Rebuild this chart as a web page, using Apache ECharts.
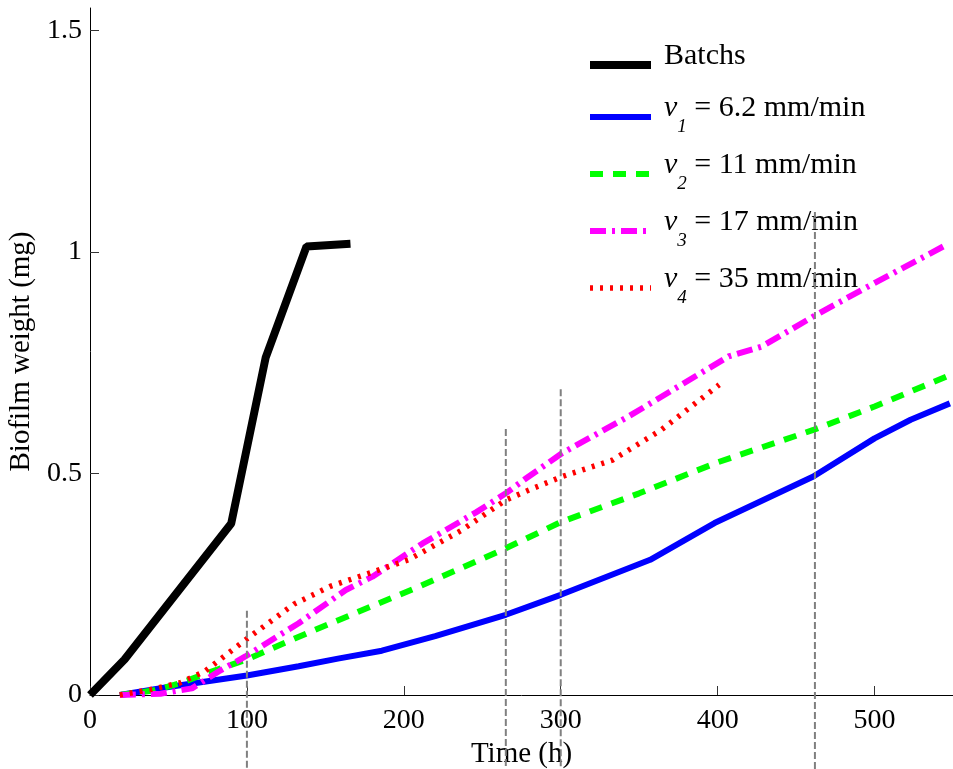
<!DOCTYPE html>
<html>
<head>
<meta charset="utf-8">
<script src="https://cdn.jsdelivr.net/npm/echarts@6/dist/echarts.min.js"></script>
<style>
  html, body { margin: 0; padding: 0; background: #fff; }
  #chart { width: 953px; height: 769px; }
</style>
</head>
<body>
<div id="chart"></div>
<script>
// series names and flow speeds (mm/min)
const seriesNames = ['Batchs', 'v1', 'v2', 'v3', 'v4'];
const speeds = [6.2, 11, 17, 35];

// Batchs
const batchT = [0, 22, 90, 112, 138, 166];
const batchW = [0, 0.08, 0.387, 0.762, 1.012, 1.018];
// v1 = 6.2 mm/min
const v1T = [19, 50, 100, 133, 158, 186, 220, 265, 300, 357, 398, 461, 500, 523, 548];
const v1W = [0, 0.018, 0.044, 0.065, 0.082, 0.1, 0.133, 0.181, 0.226, 0.305, 0.388, 0.493, 0.579, 0.621, 0.658];
// v2 = 11 mm/min
const v2T = [19, 40, 57, 75, 99, 142, 210, 265, 300, 350, 400, 461, 500, 547];
const v2W = [0, 0.01, 0.026, 0.05, 0.079, 0.145, 0.245, 0.331, 0.39, 0.455, 0.525, 0.598, 0.651, 0.72];
// v3 = 17 mm/min
const v3T = [19, 45, 65, 82, 99, 133, 163, 180, 212, 246, 265, 278, 301, 343, 375, 407, 428, 461, 494, 547];
const v3W = [0, 0.003, 0.015, 0.053, 0.087, 0.162, 0.237, 0.267, 0.342, 0.412, 0.455, 0.489, 0.546, 0.628, 0.696, 0.764, 0.786, 0.854, 0.918, 1.018];
// v4 = 35 mm/min
const v4T = [19, 38, 57, 73, 99, 130, 153, 178, 203, 237, 265, 280, 301, 333, 364, 401];
const v4W = [0, 0.012, 0.027, 0.053, 0.124, 0.205, 0.245, 0.275, 0.305, 0.372, 0.44, 0.463, 0.493, 0.53, 0.598, 0.7];

// grey dashed markers: time, top and bottom weight
const markT = [100, 265, 300, 462];
const markTop = [0.19, 0.6, 0.69, 1.09];
const markBottom = -0.17;

const xTicks = [0, 100, 200, 300, 400, 500];
const yTicks = [0, 0.5, 1, 1.5];

const FONT = 'Liberation Serif';
const zip = (xs, ys) => xs.map((x, i) => [x, ys[i]]);

const curves = [
  { t: batchT, w: batchW, color: '#000000', width: 8, type: 'solid' },
  { t: v1T, w: v1W, color: '#0000ff', width: 6, type: 'solid' },
  { t: v2T, w: v2W, color: '#00ff00', width: 6, type: [13, 10] },
  { t: v3T, w: v3W, color: '#ff00ff', width: 6, type: [16, 6, 3, 6] },
  { t: v4T, w: v4W, color: '#ff0000', width: 5.5, type: [3, 7] },
];

const series = curves.map((c, i) => ({
  name: seriesNames[i],
  type: 'line',
  data: zip(c.t, c.w),
  symbol: 'none',
  smooth: false,
  z: 2 + i,
  lineStyle: { color: c.color, width: c.width, type: c.type },
  itemStyle: { color: c.color },
}));

markT.forEach((t, i) => {
  series.push({
    type: 'line',
    data: [[t, markTop[i]], [t, markBottom]],
    symbol: 'none',
    clip: false,
    silent: true,
    z: 10,
    lineStyle: { color: '#808080', width: 2, type: [7, 3] },
  });
});

const legendLabel = (name) => {
  const i = seriesNames.indexOf(name);
  if (i === 0) return '{b|Batchs}{sb| }';
  return `{v|v}{s|${i}}{t| = ${speeds[i - 1]} mm/min}`;
};

const chart = echarts.init(document.getElementById('chart'));
chart.setOption({
  animation: false,
  backgroundColor: '#ffffff',
  grid: { left: 90, right: 0, top: 8, bottom: 74, outerBoundsMode: 'none' },
  legend: {
    data: seriesNames.map((n, i) => ({
      name: n,
      lineStyle: { width: curves[i].width },
    })),
    orient: 'vertical',
    left: 581,
    top: 36,
    itemWidth: 61,
    itemHeight: 14,
    itemGap: 14,
    itemStyle: { opacity: 0 },
    formatter: legendLabel,
    textStyle: {
      fontFamily: FONT,
      fontSize: 30,
      color: '#000',
      rich: {
        b: { fontFamily: FONT, fontSize: 30, color: '#000', padding: [0, 0, 18, 8] },
        sb: { fontFamily: FONT, fontSize: 19, color: '#000', padding: [9, 0, 0, 0] },
        v: { fontFamily: FONT, fontSize: 30, color: '#000', fontStyle: 'italic', padding: [0, 0, 18, 8] },
        s: { fontFamily: FONT, fontSize: 19, color: '#000', fontStyle: 'italic', padding: [19, 0, 0, 0] },
        t: { fontFamily: FONT, fontSize: 30, color: '#000', padding: [0, 0, 18, 0] },
      },
    },
  },
  xAxis: {
    type: 'value',
    min: 0,
    max: 550,
    name: 'Time (h)',
    nameLocation: 'middle',
    nameGap: 35,
    nameTextStyle: { fontFamily: FONT, fontSize: 29, color: '#000' },
    axisLine: { show: true, lineStyle: { color: '#000', width: 1 } },
    axisTick: { show: true, inside: true, length: 9, customValues: xTicks, lineStyle: { color: '#333' } },
    axisLabel: { customValues: xTicks, fontFamily: FONT, fontSize: 28, color: '#000', margin: 12 },
    splitLine: { show: false },
  },
  yAxis: {
    type: 'value',
    min: 0,
    max: 1.55,
    name: 'Biofilm weight (mg)',
    nameLocation: 'middle',
    nameGap: 52,
    nameTextStyle: { fontFamily: FONT, fontSize: 29, color: '#000' },
    axisLine: { show: true, lineStyle: { color: '#000', width: 1 } },
    axisTick: { show: true, inside: true, length: 9, customValues: yTicks, lineStyle: { color: '#333' } },
    axisLabel: { customValues: yTicks, fontFamily: FONT, fontSize: 28, color: '#000', margin: 8 },
    splitLine: { show: false },
  },
  series: series,
});
</script>
</body>
</html>
